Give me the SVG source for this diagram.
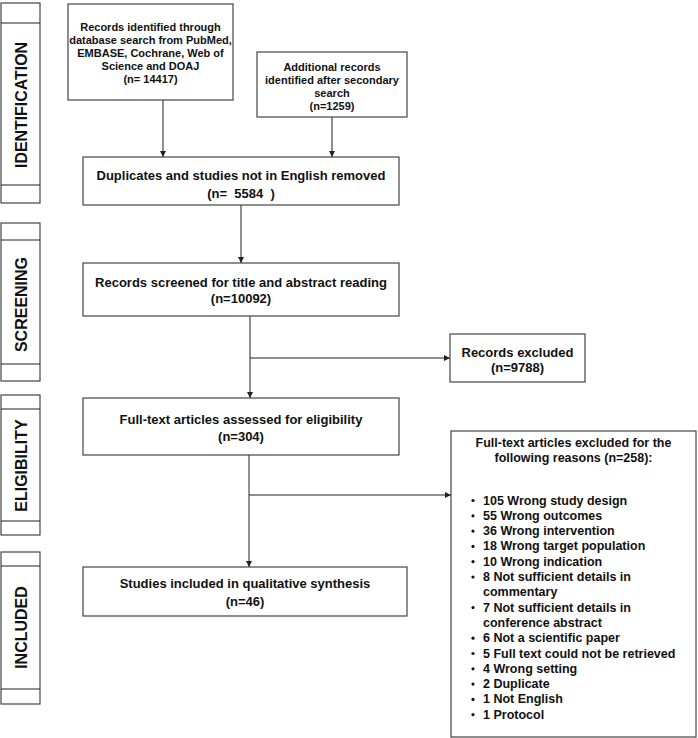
<svg xmlns="http://www.w3.org/2000/svg" width="698" height="738" viewBox="0 0 698 738">
<defs>
<style>
.bx{fill:#fff;stroke:#444;stroke-width:1.2}
.ln{fill:none;stroke:#222;stroke-width:1}
text{font-family:"Liberation Sans",Arial,sans-serif;font-weight:bold;fill:#111}
.c{text-anchor:middle}
.s11{font-size:11px}
.s13{font-size:13px}
.s12{font-size:12.5px}
.stg{font-size:16px;text-anchor:middle}
</style>
<marker id="ah" viewBox="0 0 10 10" refX="10" refY="5" markerWidth="6" markerHeight="6" orient="auto" markerUnits="userSpaceOnUse">
<path d="M0,0 L10,5 L0,10 z" fill="#222"/>
</marker>
</defs>
<rect width="698" height="738" fill="#fff"/>

<g id="stage-identification">
<rect class="bx" x="1" y="3" width="39" height="200"/>
<line class="ln" x1="1" y1="23" x2="40" y2="23"/>
<line class="ln" x1="1" y1="185" x2="40" y2="185"/>
<text class="stg" transform="translate(27,105) rotate(-90)" textLength="126" lengthAdjust="spacingAndGlyphs">IDENTIFICATION</text>
</g>
<g id="stage-screening">
<rect class="bx" x="1" y="223" width="39" height="158"/>
<line class="ln" x1="1" y1="240" x2="40" y2="240"/>
<line class="ln" x1="1" y1="364" x2="40" y2="364"/>
<text class="stg" transform="translate(27,304.5) rotate(-90)">SCREENING</text>
</g>
<g id="stage-eligibility">
<rect class="bx" x="1" y="395" width="39" height="140"/>
<line class="ln" x1="1" y1="409" x2="40" y2="409"/>
<line class="ln" x1="1" y1="521" x2="40" y2="521"/>
<text class="stg" transform="translate(27,465.5) rotate(-90)">ELIGIBILITY</text>
</g>
<g id="stage-included">
<rect class="bx" x="1" y="552" width="39" height="152"/>
<line class="ln" x1="1" y1="566" x2="40" y2="566"/>
<line class="ln" x1="1" y1="689" x2="40" y2="689"/>
<text class="stg" transform="translate(27,627.5) rotate(-90)">INCLUDED</text>
</g>

<g id="connectors">
<line class="ln" x1="163" y1="100" x2="163" y2="157" marker-end="url(#ah)"/>
<line class="ln" x1="332" y1="117" x2="332" y2="157" marker-end="url(#ah)"/>
<line class="ln" x1="241" y1="205" x2="241" y2="263" marker-end="url(#ah)"/>
<line class="ln" x1="250" y1="316" x2="250" y2="398" marker-end="url(#ah)"/>
<line class="ln" x1="250" y1="358" x2="450" y2="358" marker-end="url(#ah)"/>
<line class="ln" x1="249" y1="455" x2="249" y2="567" marker-end="url(#ah)"/>
<line class="ln" x1="249" y1="495" x2="451" y2="495" marker-end="url(#ah)"/>
</g>

<g id="records-identified">
<rect class="bx" x="68" y="4" width="165" height="96"/>
<text class="c s11" x="150.5" y="31">Records identified through</text>
<text class="c s11" x="150.5" y="44">database search from PubMed,</text>
<text class="c s11" x="150.5" y="57">EMBASE, Cochrane, Web of</text>
<text class="c s11" x="150.5" y="70">Science and DOAJ</text>
<text class="c s11" x="150.5" y="83">(n= 14417)</text>
</g>
<g id="additional-records">
<rect class="bx" x="257" y="52" width="150" height="65"/>
<text class="c s11" x="332" y="71">Additional records</text>
<text class="c s11" x="332" y="84">identified after secondary</text>
<text class="c s11" x="332" y="97">search</text>
<text class="c s11" x="332" y="110">(n=1259)</text>
</g>
<g id="duplicates-removed">
<rect class="bx" x="83" y="157" width="316" height="48"/>
<text class="c s13" x="241" y="180">Duplicates and studies not in English removed</text>
<text class="c s13" x="241" y="198" style="white-space:pre">(n=  5584  )</text>
</g>
<g id="records-screened">
<rect class="bx" x="83" y="263" width="316" height="53"/>
<text class="c s13" x="241" y="287">Records screened for title and abstract reading</text>
<text class="c s13" x="241" y="303">(n=10092)</text>
</g>
<g id="records-excluded">
<rect class="bx" x="450" y="334" width="135" height="48"/>
<text class="c s13" x="517.5" y="356.5">Records excluded</text>
<text class="c s13" x="517.5" y="371.5">(n=9788)</text>
</g>
<g id="fulltext-assessed">
<rect class="bx" x="83" y="398" width="316" height="57"/>
<text class="c s13" x="241" y="424">Full-text articles assessed for eligibility</text>
<text class="c s13" x="241" y="441">(n=304)</text>
</g>
<g id="studies-included">
<rect class="bx" x="83" y="567" width="324" height="49"/>
<text class="c s13" x="245" y="588">Studies included in qualitative synthesis</text>
<text class="c s13" x="245" y="606">(n=46)</text>
</g>
<g id="fulltext-excluded">
<rect class="bx" x="451" y="431" width="245" height="306"/>
<text class="c s12" x="573.5" y="446.5">Full-text articles excluded for the</text>
<text class="c s12" x="573.5" y="461.5">following reasons (n=258):</text>
<g fill="#111">
<circle cx="473" cy="500.5" r="1.6"/>
<circle cx="473" cy="515.8" r="1.6"/>
<circle cx="473" cy="531.1" r="1.6"/>
<circle cx="473" cy="546.4" r="1.6"/>
<circle cx="473" cy="561.7" r="1.6"/>
<circle cx="473" cy="577" r="1.6"/>
<circle cx="473" cy="607.6" r="1.6"/>
<circle cx="473" cy="638.2" r="1.6"/>
<circle cx="473" cy="653.5" r="1.6"/>
<circle cx="473" cy="668.8" r="1.6"/>
<circle cx="473" cy="684.1" r="1.6"/>
<circle cx="473" cy="699.4" r="1.6"/>
<circle cx="473" cy="714.7" r="1.6"/>
</g>
<text class="s12" x="483" y="504.5">105 Wrong study design</text>
<text class="s12" x="483" y="519.8">55 Wrong outcomes</text>
<text class="s12" x="483" y="535.1">36 Wrong intervention</text>
<text class="s12" x="483" y="550.4">18 Wrong target population</text>
<text class="s12" x="483" y="565.7">10 Wrong indication</text>
<text class="s12" x="483" y="581">8 Not sufficient details in</text>
<text class="s12" x="483" y="596.3">commentary</text>
<text class="s12" x="483" y="611.6">7 Not sufficient details in</text>
<text class="s12" x="483" y="626.9">conference abstract</text>
<text class="s12" x="483" y="642.2">6 Not a scientific paper</text>
<text class="s12" x="483" y="657.5">5 Full text could not be retrieved</text>
<text class="s12" x="483" y="672.8">4 Wrong setting</text>
<text class="s12" x="483" y="688.1">2 Duplicate</text>
<text class="s12" x="483" y="703.4">1 Not English</text>
<text class="s12" x="483" y="718.7">1 Protocol</text>
</g>
</svg>
